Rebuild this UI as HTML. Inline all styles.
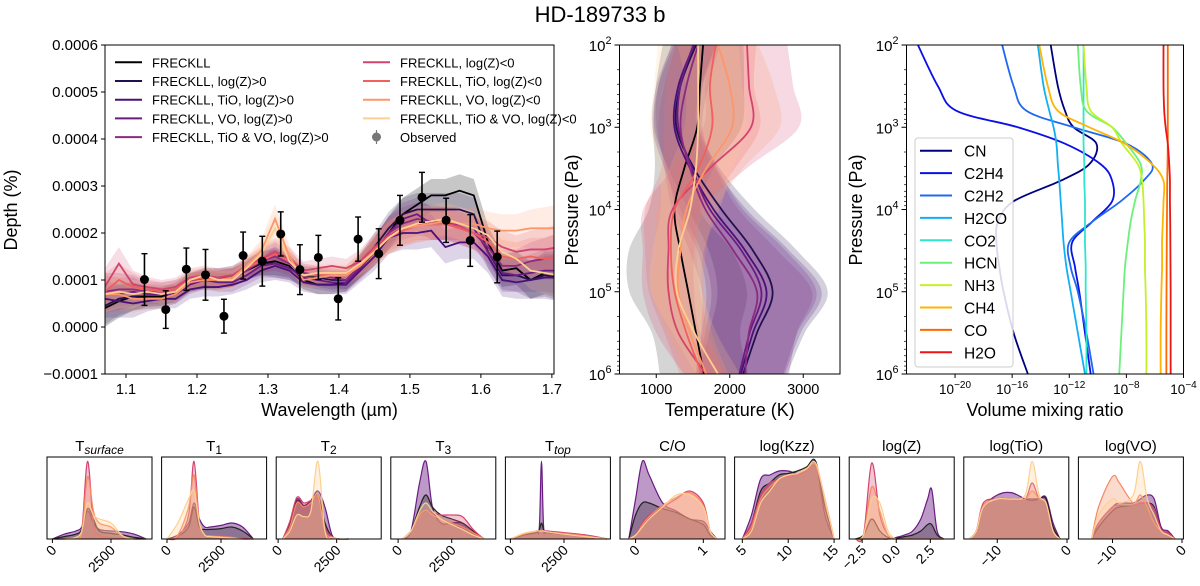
<!DOCTYPE html>
<html><head><meta charset="utf-8"><style>
body{margin:0;background:#fff}
svg text{font-family:"Liberation Sans","DejaVu Sans",sans-serif}
</style></head><body>
<svg id="fig" width="1200" height="581" viewBox="0 0 1200 581" xmlns="http://www.w3.org/2000/svg">
<text x="600" y="22" font-size="22" text-anchor="middle">HD-189733 b</text>
<defs>
<clipPath id="cMain"><rect x="105" y="45" width="449" height="329"/></clipPath>
<clipPath id="cMid"><rect x="619.5" y="45" width="220.5" height="329"/></clipPath>
<clipPath id="cRight"><rect x="906.5" y="45" width="277" height="329"/></clipPath>
</defs>
<g id="main"></g>
<g id="mid"></g>
<g id="right"></g>
<g id="bottom"></g>
</svg>
<script>
// ---------- Data: spectrum ----------
const wavelengths=[1.07,1.09,1.11,1.13,1.15,1.17,1.19,1.21,1.23,1.25,1.27,1.29,1.31,1.33,1.35,1.37,1.39,1.41,1.43,1.45,1.47,1.49,1.51,1.53,1.55,1.57,1.59,1.61,1.63,1.65,1.67,1.69,1.71];
const seriesNames=["FRECKLL","FRECKLL, log(Z)>0","FRECKLL, TiO, log(Z)>0","FRECKLL, VO, log(Z)>0","FRECKLL, TiO & VO, log(Z)>0","FRECKLL, log(Z)<0","FRECKLL, TiO, log(Z)<0","FRECKLL, VO, log(Z)<0","FRECKLL, TiO & VO, log(Z)<0"];
const seriesColors=["#000004","#221150","#4a1079","#6a1c82","#8c2981","#d3436e","#f1605d","#fd9668","#fecf92"];
const depthBlack=[0.4,0.55,0.65,0.65,0.65,0.75,0.95,1.0,1.0,1.05,1.2,1.35,1.4,1.3,1.0,0.9,0.9,0.95,1.3,1.6,2.0,2.4,2.6,2.8,2.8,2.9,2.8,1.8,1.2,1.25,1.0,1.15,1.1];
const depthZpos=[0.45,0.6,0.65,0.6,0.6,0.7,0.95,1.05,1.05,1.1,1.25,1.35,1.35,1.25,1.1,1.05,1.0,1.0,1.3,1.7,2.1,2.4,2.5,2.5,2.5,2.5,2.4,1.6,1.1,1.1,1.0,1.1,1.05];
const depthTiOZpos=[0.6,0.55,0.5,0.55,0.6,0.6,0.8,0.85,0.85,0.9,1.0,1.2,1.3,1.2,0.95,0.9,0.9,0.9,1.2,1.5,1.9,2.0,2.0,2.05,1.7,1.8,1.8,1.5,1.0,0.95,1.0,1.05,1.05];
const depthVOZpos=[0.7,0.7,0.75,0.7,0.7,0.7,0.9,1.0,0.95,0.95,1.1,1.3,1.35,1.25,1.05,1.0,0.95,0.95,1.25,1.6,2.0,2.3,2.4,2.2,2.2,2.2,2.1,1.6,1.15,1.1,1.15,1.2,1.2];
const depthTiOVOZpos=[0.75,0.8,0.8,0.75,0.75,0.8,0.95,1.05,1.05,1.05,1.2,1.4,1.5,1.35,1.15,1.1,1.05,1.0,1.3,1.6,2.0,2.2,2.3,2.25,2.2,2.1,2.0,1.7,1.3,1.3,1.4,1.45,1.5];
const depthZneg=[0.85,1.35,0.9,0.85,0.8,0.85,1.05,1.1,1.05,1.1,1.3,1.45,1.6,1.45,1.2,1.25,1.3,1.25,1.4,1.7,1.95,2.1,2.2,2.2,2.2,2.15,2.0,1.9,1.7,1.6,1.65,1.65,1.7];
const depthTiOZneg=[0.75,1.0,0.85,0.8,0.75,0.8,1.0,1.05,1.0,1.05,1.25,1.4,1.55,1.4,1.1,1.1,1.1,1.1,1.35,1.65,1.9,2.05,2.15,2.2,2.2,2.1,2.0,1.8,1.5,1.45,1.5,1.45,1.5];
const depthVOZneg=[0.7,0.7,0.6,0.6,0.6,0.7,0.95,1.0,1.0,1.05,1.3,1.6,2.3,1.5,1.0,1.05,1.1,1.1,1.3,1.6,1.9,2.1,2.15,2.2,2.25,2.2,2.2,2.1,2.05,2.05,2.1,2.1,2.1];
const depthTiOVOZneg=[0.7,0.75,0.7,0.75,0.7,0.75,1.0,1.1,1.0,1.0,1.25,1.55,2.1,1.4,1.1,1.15,1.15,1.15,1.35,1.6,1.9,2.1,2.2,2.25,2.3,2.2,2.1,1.95,1.6,1.45,1.2,1.15,1.1];
const depthBand=[0.4,0.35,0.3,0.22,0.2,0.2,0.2,0.2,0.2,0.2,0.2,0.25,0.3,0.25,0.2,0.2,0.2,0.2,0.25,0.3,0.35,0.35,0.35,0.35,0.35,0.35,0.35,0.35,0.35,0.35,0.4,0.45,0.5];
const obsWl=[1.126,1.156,1.185,1.212,1.238,1.265,1.292,1.318,1.345,1.371,1.399,1.427,1.456,1.486,1.517,1.551,1.585,1.623];
const obsDepth=[1.01,0.37,1.23,1.11,0.23,1.52,1.40,1.98,1.22,1.48,0.60,1.87,1.56,2.27,2.76,2.27,1.84,1.49];
const obsErr=[0.55,0.40,0.45,0.54,0.36,0.50,0.53,0.47,0.53,0.47,0.45,0.47,0.53,0.53,0.53,0.47,0.55,0.55];
const depthTicks=[-0.0001,0,0.0001,0.0002,0.0003,0.0004,0.0005,0.0006];
const depthTickLabels=["\u22120.0001","0.0000","0.0001","0.0002","0.0003","0.0004","0.0005","0.0006"];
const wlTicks=[1.1,1.2,1.3,1.4,1.5,1.6,1.7];
// ---------- Data: temperature profiles ----------
const logP=[2,2.5,3,3.5,4,4.5,5,5.5,6];
const tpBlack=[1637,1594,1557,1381,1248,1328,1435,1541,1648];
const tpZpos=[1541,1328,1274,1515,1888,2316,2583,2370,2182];
const tpTiOZpos=[1514,1300,1247,1460,1780,2210,2500,2315,2150];
const tpVOZpos=[1503,1328,1300,1490,1730,2160,2430,2270,2130];
const tpTiOVOZpos=[1570,1410,1330,1460,1670,2050,2370,2260,2210];
const tpZneg=[2235,2262,2289,1728,1221,1167,1167,1301,1675];
const tpTiOZneg=[1810,1730,1760,1570,1250,1200,1250,1410,1620];
const tpVOZneg=[1840,2000,2030,1680,1410,1330,1300,1460,1680];
const tpTiOVOZneg=[1570,1570,1570,1540,1460,1300,1280,1520,1840];
const tpSpreadZpos=[300,300,300,350,450,600,750,650,600];
const tpSpreadZneg=[550,600,650,500,400,350,350,300,300];
const tpSpreadBlack=[550,600,600,400,350,700,800,600,600];
const tempTicks=[1000,2000,3000];
const pTicks=[2,3,4,5,6];
// ---------- Data: mixing ratios ----------
const speciesNames=["CN","C2H4","C2H2","H2CO","CO2","HCN","NH3","CH4","CO","H2O"];
const speciesColors=["#00007f","#0a10e6","#1f68f2","#12b0f2","#2ee6cc","#6cf07a","#c4f02a","#ffb400","#ff6a00","#ee1414"];
const vmrLogP=[2,2.5,2.8,3,3.2,3.45,3.65,3.9,4.15,4.4,4.7,5,5.5,6];
const vmrCN=[-13.3,-12.8,-12.3,-11.7,-10.1,-10.6,-12.6,-15.9,-17.0,-17.1,-16.9,-16.6,-15.9,-14.9];
const vmrC2H4=[-22.6,-21.2,-19.9,-15.6,-12.3,-9.8,-9.0,-9.0,-10.4,-11.8,-11.6,-11.3,-10.9,-10.5];
const vmrC2H2=[-16.7,-15.9,-15.0,-11.7,-8.0,-6.2,-6.8,-8.4,-10.4,-12.0,-11.9,-11.4,-10.8,-10.3];
const vmrH2CO=[-14.2,-13.8,-13.4,-13.1,-12.9,-12.8,-12.7,-12.6,-12.5,-12.4,-12.2,-11.9,-11.4,-10.9];
const vmrCO2=[-11.0,-11.0,-11.0,-11.0,-11.0,-10.95,-10.95,-10.9,-10.9,-10.9,-10.85,-10.85,-10.8,-10.8];
const vmrHCN=[-11.4,-11.2,-10.8,-9.0,-8.0,-7.0,-7.0,-7.4,-7.7,-7.9,-8.1,-8.2,-8.35,-8.5];
const vmrNH3=[-11.0,-10.8,-10.5,-9.0,-8.3,-7.2,-6.9,-6.8,-6.75,-6.7,-6.7,-6.65,-6.6,-6.6];
const vmrCH4=[-14.1,-13.5,-12.8,-10.6,-8.1,-6.2,-5.4,-5.4,-5.45,-5.5,-5.5,-5.55,-5.6,-5.6];
const vmrCO=[-5.1,-5.1,-5.1,-5.1,-5.1,-5.12,-5.14,-5.15,-5.16,-5.17,-5.18,-5.19,-5.2,-5.2];
const vmrH2O=[-5.4,-5.4,-5.35,-5.25,-5.1,-5.0,-4.95,-4.95,-4.93,-4.92,-4.91,-4.9,-4.9,-4.9];
const vmrTicks=[-20,-16,-12,-8,-4];
// ---------- Data: posteriors ----------
const postTitles=[["T","surface",true],["T","1",false],["T","2",false],["T","3",false],["T","top",true],["C/O","",false],["log(Kzz)","",false],["log(Z)","",false],["log(TiO)","",false],["log(VO)","",false]];
const postXmin=[-230,-250,-81,-340,-233,-0.23,4.16,-3.45,-14.8,-14.9];
const postXmax=[4250,4611,4400,4556,4665,1.32,15.6,4.25,0.26,0.2];
const postTicks=[[0,2500],[0,2500],[0,2500],[0,2500],[0,2500],[0,1],[5,10,15],[-2.5,0,2.5],[-10,0],[-10,0]];
const postTickLabels=[["0","2500"],["0","2500"],["0","2500"],["0","2500"],["0","2500"],["0","1"],["5","10","15"],["\u22122.5","0.0","2.5"],["\u221210","0"],["\u221210","0"]];
const postGrid=[
[0,500,1000,1250,1500,1750,2000,2500,3000,3500,4000],
[0,500,1000,1250,1500,1750,2000,2500,3000,3500,4000],
[200,500,800,1100,1400,1700,2000,2300,2600,3000],
[200,600,1000,1300,1600,2000,2500,3000,3500,4000],
[0,600,1200,1350,1450,1550,1700,2500,3500,4500],
[-0.1,0,0.1,0.2,0.4,0.6,0.8,1.0,1.1,1.2],
[5,6,7,8,9,10,11,12,13,14,15],
[-3,-2.4,-1.8,-1.2,-0.6,0,0.6,1.2,1.8,2.3,2.6,3,3.5],
[-14,-13,-12,-10,-8,-6,-5,-4,-3,-2,-1],
[-13,-12,-10,-9,-7,-6,-5,-4,-3,-2,-1]];
const postPurple=[
[0,.06,.1,.15,.35,.2,.12,.1,.09,.06,0],
[0,.05,.2,.45,.25,.15,.15,.17,.2,.15,0],
[0,.2,.5,.42,.48,.6,.4,.05,0,0],
[0,.1,.7,.97,.4,.2,.2,.2,.1,0],
[0,.05,.08,.15,.97,.15,.08,.07,.05,0],
[0,.5,.97,.8,.45,.35,.25,.22,.1,0],
[0,.3,.75,.8,.85,.85,.82,.85,.95,.3,0],
[0,0,0,0,0,.02,.05,.1,.25,.5,.62,.1,0],
[0,.1,.4,.55,.58,.5,.48,.5,.52,.2,0],
[0,.2,.4,.45,.45,.5,.55,.5,.15,.1,0]];
const postBlack=[
[0,.03,.06,.12,.38,.25,.1,.07,.05,.02,0],
[0,.03,.15,.4,.15,.12,.12,.13,.15,.1,0],
[0,.2,.48,.4,.45,.55,.2,.03,0,0],
[0,.1,.4,.55,.4,.3,.25,.2,.1,0],
[0,.05,.08,.12,.2,.12,.08,.06,.04,0],
[0,.3,.45,.45,.38,.33,.25,.18,.05,0],
[0,.2,.6,.7,.8,.82,.85,.9,.97,.4,0],
[0,.05,.25,.1,.02,.01,.03,.05,.1,.18,.18,.05,0],
[0,.1,.4,.5,.5,.5,.5,.5,.5,.15,0],
[0,.15,.35,.4,.42,.45,.45,.4,.12,.08,0]];
const postPink=[
[0,0,.02,.1,.97,.2,.05,.02,.01,0,0],
[0,.02,.3,.97,.2,.05,.04,.03,.02,.01,0],
[0,.22,.52,.45,.48,.5,.15,.03,0,0],
[0,.1,.3,.35,.33,.3,.3,.28,.12,0],
[0,.06,.1,.1,.1,.1,.1,.08,.05,0],
[0,.05,.2,.3,.4,.5,.6,.45,.1,0],
[0,.2,.55,.7,.75,.78,.8,.85,.9,.5,0],
[0,.05,.95,.3,.05,0,0,0,0,0,0,0,0],
[0,.1,.45,.5,.5,.5,.7,.5,.45,.1,0],
[0,.2,.4,.42,.42,.45,.45,.38,.12,.08,0]];
const postOrange=[
[0,0,.02,.08,.78,.35,.2,.15,.03,0,0],
[0,.05,.4,.8,.2,.05,.04,.03,.02,0,0],
[0,.15,.45,.4,.45,.55,.1,.02,0,0],
[0,.1,.3,.36,.3,.25,.2,.15,.08,0],
[0,.06,.1,.1,.1,.1,.09,.07,.04,0],
[0,.04,.18,.28,.42,.52,.58,.42,.1,0],
[0,.15,.5,.65,.75,.8,.82,.87,.93,.5,0],
[0,.05,.65,.35,.05,0,0,0,0,0,0,0,0],
[0,.1,.42,.5,.5,.5,.6,.5,.45,.1,0],
[0,.4,.78,.7,.45,.55,.4,.2,.1,.05,0]];
const postYellow=[
[0,0,.02,.1,.45,.3,.25,.2,.04,0,0],
[0,.2,.5,.6,.2,.05,.03,.02,.01,0,0],
[0,.1,.3,.28,.35,.97,.1,.02,0,0],
[0,.1,.35,.45,.35,.25,.18,.12,.05,0],
[0,.07,.1,.1,.1,.1,.09,.06,.03,0],
[0,.05,.15,.25,.4,.55,.55,.4,.1,0],
[0,.1,.45,.6,.75,.8,.82,.88,.95,.5,0],
[0,.05,.5,.45,.1,0,0,0,0,0,0,0,0],
[0,.1,.4,.5,.5,.55,.97,.55,.45,.1,0],
[0,.3,.5,.45,.55,.97,.5,.3,.1,.05,0]];

// ---------- helpers ----------
const NS="http://www.w3.org/2000/svg";
function mk(parent,tag,attrs,txt){const e=document.createElementNS(NS,tag);for(const k in attrs)e.setAttribute(k,attrs[k]);if(txt!==undefined)e.textContent=txt;parent.appendChild(e);return e;}
function smooth(pts){if(pts.length<2)return"";let d="M"+pts[0][0].toFixed(2)+","+pts[0][1].toFixed(2);for(let i=0;i<pts.length-1;i++){const p0=pts[i-1]||pts[i],p1=pts[i],p2=pts[i+1],p3=pts[i+2]||p2;const c1=[p1[0]+(p2[0]-p0[0])/6,p1[1]+(p2[1]-p0[1])/6],c2=[p2[0]-(p3[0]-p1[0])/6,p2[1]-(p3[1]-p1[1])/6];d+="C"+c1.map(v=>v.toFixed(2))+" "+c2.map(v=>v.toFixed(2))+" "+p2[0].toFixed(2)+","+p2[1].toFixed(2);}return d;}
function poly(pts){return "M"+pts.map(p=>p[0].toFixed(2)+","+p[1].toFixed(2)).join("L");}
function supTick(g,x,y,exp,anchor,fs){const t=mk(g,"text",{x:x,y:y,"font-size":fs,"text-anchor":anchor});mk(t,"tspan",{},"10");mk(t,"tspan",{dy:-7,"font-size":fs*0.72},exp);return t;}

// ---------- Main spectrum ----------
(function(){
const g=document.getElementById("main");
const L=105,R=554,T=45,B=374;
const xS=v=>L+(v-1.0704)/(1.703-1.0704)*(R-L);
const yS=v=>B-(v-(-0.0001))/0.0007*(B-T);
const all=[depthBlack,depthZpos,depthTiOZpos,depthVOZpos,depthTiOVOZpos,depthZneg,depthTiOZneg,depthVOZneg,depthTiOVOZneg];
const cg=mk(g,"g",{"clip-path":"url(#cMain)"});
all.forEach((s,i)=>{
 const up=wavelengths.map((w,j)=>[xS(w),yS((s[j]+depthBand[j])*1e-4)]);
 const dn=wavelengths.map((w,j)=>[xS(w),yS((s[j]-depthBand[j])*1e-4)]).reverse();
 const b=mk(cg,"path",{d:poly(up.concat(dn))+"Z",fill:seriesColors[i],"fill-opacity":i==0?0.22:0.18,stroke:"none"});
 
 
});
all.forEach((s,i)=>{
 const p=mk(cg,"path",{d:poly(wavelengths.map((w,j)=>[xS(w),yS(s[j]*1e-4)])),fill:"none",stroke:seriesColors[i],"stroke-width":1.8});
 
 
});
obsWl.forEach((w,i)=>{
 const x=xS(w),y=yS(obsDepth[i]*1e-4),e=obsErr[i]*1e-4;
 const eg=mk(g,"g",{});
 
 
 mk(eg,"line",{x1:x,x2:x,y1:yS(obsDepth[i]*1e-4+e),y2:yS(obsDepth[i]*1e-4-e),stroke:"#000","stroke-width":1.6});
 mk(eg,"line",{x1:x-3,x2:x+3,y1:yS(obsDepth[i]*1e-4+e),y2:yS(obsDepth[i]*1e-4+e),stroke:"#000","stroke-width":1.4});
 mk(eg,"line",{x1:x-3,x2:x+3,y1:yS(obsDepth[i]*1e-4-e),y2:yS(obsDepth[i]*1e-4-e),stroke:"#000","stroke-width":1.4});
 mk(eg,"circle",{cx:x,cy:y,r:4.5,fill:"#000"});
});
const fr=mk(g,"rect",{x:L,y:T,width:R-L,height:B-T,fill:"none",stroke:"#000","stroke-width":1});

depthTicks.forEach((v,i)=>{const y=yS(v);mk(g,"line",{x1:L-4,x2:L,y1:y,y2:y,stroke:"#000"});
 const t=mk(g,"text",{x:L-7,y:y+5,"font-size":15,"text-anchor":"end"},depthTickLabels[i]);
 });
wlTicks.forEach(v=>{const x=xS(v);mk(g,"line",{x1:x,x2:x,y1:B,y2:B+4,stroke:"#000"});
 const t=mk(g,"text",{x:x,y:B+20,"font-size":14.5,"text-anchor":"middle"},v.toFixed(1));
 });
const xl=mk(g,"text",{x:(L+R)/2,y:416,"font-size":18,"text-anchor":"middle"},"Wavelength (\u00b5m)");

const yl=mk(g,"text",{x:0,y:0,"font-size":18,"text-anchor":"middle",transform:"translate(17,210) rotate(-90)"},"Depth (%)");

const lg=mk(g,"g",{});

seriesNames.forEach((n,i)=>{
 const col=i<5?0:1,row=i<5?i:i-5;
 const lx=col?363:115,tx=col?400:152,y=62.3+row*18.7;
 const e=mk(lg,"g",{});
 
 mk(e,"line",{x1:lx,x2:lx+27,y1:y,y2:y,stroke:seriesColors[i],"stroke-width":2});
 mk(e,"text",{x:tx,y:y+5,"font-size":13},n);
});
const oe=mk(lg,"g",{});

mk(oe,"line",{x1:376.5,x2:376.5,y1:130,y2:144,stroke:"#777","stroke-width":1.2});
mk(oe,"circle",{cx:376.5,cy:137,r:4.5,fill:"#777"});
mk(oe,"text",{x:400,y:142,"font-size":13},"Observed");
})();

// ---------- Temperature profiles ----------
(function(){
const g=document.getElementById("mid");
const L=619.5,R=840,T=45,B=374;
const xS=v=>L+(v-500)/3000*(R-L);
const yS=p=>T+(p-2)/4*(B-T);
const tps=[tpBlack,tpZpos,tpTiOZpos,tpVOZpos,tpTiOVOZpos,tpZneg,tpTiOZneg,tpVOZneg,tpTiOVOZneg];
const cg=mk(g,"g",{"clip-path":"url(#cMid)"});
tps.forEach((s,i)=>{
 const sp=i==0?tpSpreadBlack:(i<5?tpSpreadZpos:tpSpreadZneg);
 const a=logP.map((p,j)=>[xS(s[j]-sp[j]),yS(p)]);
 const b=logP.map((p,j)=>[xS(s[j]+sp[j]),yS(p)]).reverse();
 const col=i==0?"#888":seriesColors[i];
 const d=smooth(a)+" L"+smooth(b).slice(1)+"Z";
 const band=mk(cg,"path",{d:d,fill:col,"fill-opacity":i==0?0.35:0.2,stroke:"none"});
 
 
});
tps.forEach((s,i)=>{
 const l=mk(cg,"path",{d:smooth(logP.map((p,j)=>[xS(s[j]),yS(p)])),fill:"none",stroke:seriesColors[i],"stroke-width":1.8});
 
 
});
const fr=mk(g,"rect",{x:L,y:T,width:R-L,height:B-T,fill:"none",stroke:"#000"});

pTicks.forEach(p=>{const y=yS(p);mk(g,"line",{x1:L-5,x2:L,y1:y,y2:y,stroke:"#000"});supTick(g,L-8,y+6,String(p),"end",15);
 if(p<6)for(let k=2;k<10;k++){const yy=yS(p+Math.log10(k));mk(g,"line",{x1:L-2.5,x2:L,y1:yy,y2:yy,stroke:"#000","stroke-width":0.7});}});
tempTicks.forEach(v=>{const x=xS(v);mk(g,"line",{x1:x,x2:x,y1:B,y2:B+4,stroke:"#000"});
 const t=mk(g,"text",{x:x,y:B+20,"font-size":14.5,"text-anchor":"middle"},String(v));
 });
const xl=mk(g,"text",{x:(L+R)/2,y:416,"font-size":18,"text-anchor":"middle"},"Temperature (K)");

const yl=mk(g,"text",{x:0,y:0,"font-size":18,"text-anchor":"middle",transform:"translate(578,210) rotate(-90)"},"Pressure (Pa)");

})();

// ---------- Mixing ratios ----------
(function(){
const g=document.getElementById("right");
const L=906.5,R=1183.5,T=45,B=374;
const xS=v=>L+(v-(-23.4))/19.4*(R-L);
const yS=p=>T+(p-2)/4*(B-T);
const sp=[vmrCN,vmrC2H4,vmrC2H2,vmrH2CO,vmrCO2,vmrHCN,vmrNH3,vmrCH4,vmrCO,vmrH2O];
const cg=mk(g,"g",{"clip-path":"url(#cRight)"});
sp.forEach((s,i)=>{
 const l=mk(cg,"path",{d:smooth(vmrLogP.map((p,j)=>[xS(s[j]),yS(p)])),fill:"none",stroke:speciesColors[i],"stroke-width":1.8});
 
 
});
const fr=mk(g,"rect",{x:L,y:T,width:R-L,height:B-T,fill:"none",stroke:"#000"});

pTicks.forEach(p=>{const y=yS(p);mk(g,"line",{x1:L-5,x2:L,y1:y,y2:y,stroke:"#000"});supTick(g,L-8,y+6,String(p),"end",15);
 if(p<6)for(let k=2;k<10;k++){const yy=yS(p+Math.log10(k));mk(g,"line",{x1:L-2.5,x2:L,y1:yy,y2:yy,stroke:"#000","stroke-width":0.7});}});
vmrTicks.forEach(v=>{const x=xS(v);mk(g,"line",{x1:x,x2:x,y1:B,y2:B+4,stroke:"#000"});
 const t=mk(g,"text",{x:x,y:B+20,"font-size":13.5,"text-anchor":"middle"});
 
 mk(t,"tspan",{},"10");mk(t,"tspan",{dy:-6,"font-size":10},"\u2212"+Math.abs(v));});
const xl=mk(g,"text",{x:(L+R)/2,y:416,"font-size":18,"text-anchor":"middle"},"Volume mixing ratio");

const yl=mk(g,"text",{x:0,y:0,"font-size":18,"text-anchor":"middle",transform:"translate(862,210) rotate(-90)"},"Pressure (Pa)");

const lg=mk(g,"g",{});

mk(lg,"rect",{x:915,y:138,width:98,height:229,rx:3,fill:"#fff","fill-opacity":0.85,stroke:"#ccc"});
speciesNames.forEach((n,i)=>{const y=150.7+i*22.4;
 const e=mk(lg,"g",{});
 
 mk(e,"line",{x1:920,x2:952,y1:y,y2:y,stroke:speciesColors[i],"stroke-width":2});
 mk(e,"text",{x:964,y:y+6,"font-size":15.5},n);});
})();

// ---------- Posteriors ----------
(function(){
const g=document.getElementById("bottom");
const T=457,B=539,W=105;
const groups=[[postPurple,"#6a1c82"],[postBlack,"#222"],[postPink,"#d3436e"],[postOrange,"#f58860"],[postYellow,"#fecf92"]];
for(let k=0;k<10;k++){
 const L=47+k*114.6;
 const pg=mk(g,"g",{});
 
 
 const xS=v=>L+(v-postXmin[k])/(postXmax[k]-postXmin[k])*W;
 const yS=v=>B-v*(B-T-2);
 groups.forEach(([arr,col],gi)=>{
  const pts=postGrid[k].map((x,j)=>[xS(x),yS(arr[k][j])]);
  const d=smooth(pts);
  const f=mk(pg,"path",{d:d+" L"+pts[pts.length-1][0].toFixed(2)+","+B+" L"+pts[0][0].toFixed(2)+","+B+"Z",fill:col,"fill-opacity":gi==0?0.45:0.3,stroke:"none"});
  
  
  const l=mk(pg,"path",{d:d,fill:"none",stroke:col,"stroke-width":1.2});
  
  
 });
 mk(pg,"rect",{x:L,y:T,width:W,height:B-T,fill:"none",stroke:"#000"});
 const tt=postTitles[k];
 const t=mk(pg,"text",{x:L+W/2,y:451,"font-size":15,"text-anchor":"middle"});
 
 mk(t,"tspan",{},tt[0]);
 if(tt[1]){const s=mk(t,"tspan",{dy:3,"font-size":12},tt[1]);if(tt[2])s.setAttribute("font-style","italic");}
 postTicks[k].forEach((v,j)=>{const x=xS(v);mk(pg,"line",{x1:x,x2:x,y1:B,y2:B+4,stroke:"#000"});
  const lab=mk(pg,"text",{x:0,y:0,"font-size":14,"text-anchor":"end",transform:"translate("+(x+5)+","+(B+12)+") rotate(-45)"},postTickLabels[k][j]);
  });
}
})();
</script>
</body></html>
